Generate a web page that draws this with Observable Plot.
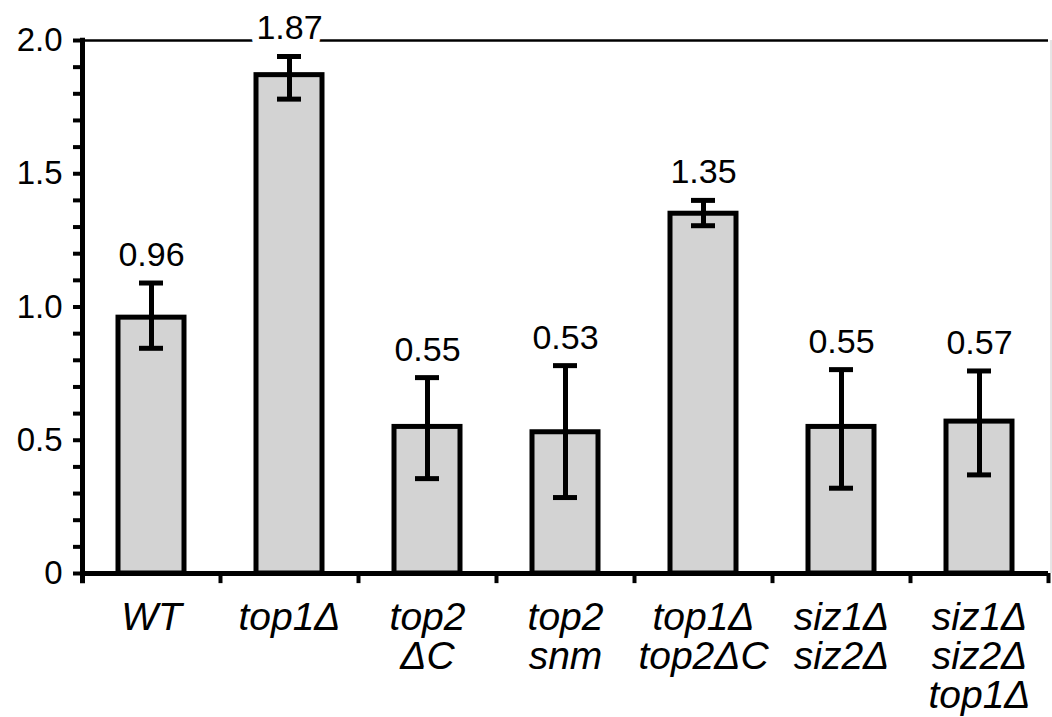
<!DOCTYPE html>
<html>
<head>
<meta charset="utf-8">
<script src="https://cdn.jsdelivr.net/npm/d3@7"></script>
<script src="https://cdn.jsdelivr.net/npm/@observablehq/plot@0.6"></script>
<style>
  html, body { margin: 0; padding: 0; background: white; }
  svg { font-family: "Liberation Sans", Arial, sans-serif; }
</style>
</head>
<body>
<div id="chart"></div>
<script>
const categories = ["WT", "top1Δ", "top2ΔC", "top2snm", "top1Δtop2ΔC", "siz1Δsiz2Δ", "siz1Δsiz2Δtop1Δ"];
const categoryLabels = ["WT", "top1Δ", "top2\nΔC", "top2\nsnm", "top1Δ\ntop2ΔC", "siz1Δ\nsiz2Δ", "siz1Δ\nsiz2Δ\ntop1Δ"];
const values = [0.96, 1.87, 0.55, 0.53, 1.35, 0.55, 0.57];
const valueLabels = ["0.96", "1.87", "0.55", "0.53", "1.35", "0.55", "0.57"];
const errLow = [0.845, 1.78, 0.356, 0.285, 1.305, 0.32, 0.37];
const errHigh = [1.09, 1.94, 0.735, 0.78, 1.40, 0.765, 0.76];
const yTicks = [0, 0.1, 0.2, 0.3, 0.4, 0.5, 0.6, 0.7, 0.8, 0.9, 1.0, 1.1, 1.2, 1.3, 1.4, 1.5, 1.6, 1.7, 1.8, 1.9, 2.0];
const yTickLabels = [[0, "0"], [0.5, "0.5"], [1.0, "1.0"], [1.5, "1.5"], [2.0, "2.0"]];

const data = categories.map((c, i) => ({
  cat: c, label: categoryLabels[i], value: values[i], text: valueLabels[i],
  lo: errLow[i], hi: errHigh[i]
}));
const labelMap = new Map(categories.map((c, i) => [c, categoryLabels[i]]));
const tickLabelMap = new Map(yTickLabels);

const chart = Plot.plot({
  width: 1052,
  height: 717,
  marginLeft: 82,
  marginRight: 4,
  marginTop: 40,
  marginBottom: 144,
  style: {fontFamily: "'Liberation Sans', Arial, sans-serif", background: "white", color: "black"},
  x: {domain: categories, paddingInner: 0.52, paddingOuter: 0.26},
  y: {domain: [0, 2]},
  marks: [
    Plot.axisY({
      ticks: yTicks,
      tickSize: 9,
      tickPadding: 11,
      strokeWidth: 4,
      fontSize: 33,
      tickFormat: d => tickLabelMap.has(Math.round(d * 10) / 10) ? tickLabelMap.get(Math.round(d * 10) / 10) : "",
      label: null
    }),
    Plot.axisX({
      tickSize: 0,
      tickPadding: 29,
      fontSize: 39,
      fontStyle: "italic",
      lineHeight: 1.0,
      tickFormat: d => labelMap.get(d),
      label: null
    }),
    Plot.ruleY([2], {strokeWidth: 2.5, stroke: "black"}),
    Plot.barY(data, {x: "cat", y: "value", fill: "#d3d3d3", stroke: "black", strokeWidth: 5}),
    Plot.ruleX(data, {x: "cat", y1: "lo", y2: "hi", strokeWidth: 5, stroke: "black"}),
    Plot.tickY(data, {x: "cat", y: "lo", strokeWidth: 5, stroke: "black", insetLeft: 21, insetRight: 21}),
    Plot.tickY(data, {x: "cat", y: "hi", strokeWidth: 5, stroke: "black", insetLeft: 21, insetRight: 21}),
    Plot.text(data, {x: "cat", y: "hi", text: "text", lineAnchor: "bottom", dy: -17, fontSize: 34,
      fill: "black", stroke: "white", strokeWidth: 14}),
    Plot.ruleY([0], {strokeWidth: 5, stroke: "black"}),
    Plot.ruleX(data, {x: "cat", y1: 0, y2: -0.038, dx: 69, strokeWidth: 4, stroke: "black"}),
    Plot.ruleX(["WT"], {x: d => d, y1: -0.038, y2: 2.008, dx: -69, strokeWidth: 5, stroke: "black"}),
    Plot.ruleX(["siz1Δsiz2Δtop1Δ"], {x: d => d, y1: 0, y2: 2, dx: 71.5, strokeWidth: 1, stroke: "#cccccc"})
  ]
});
document.getElementById("chart").appendChild(chart);
</script>
</body>
</html>
